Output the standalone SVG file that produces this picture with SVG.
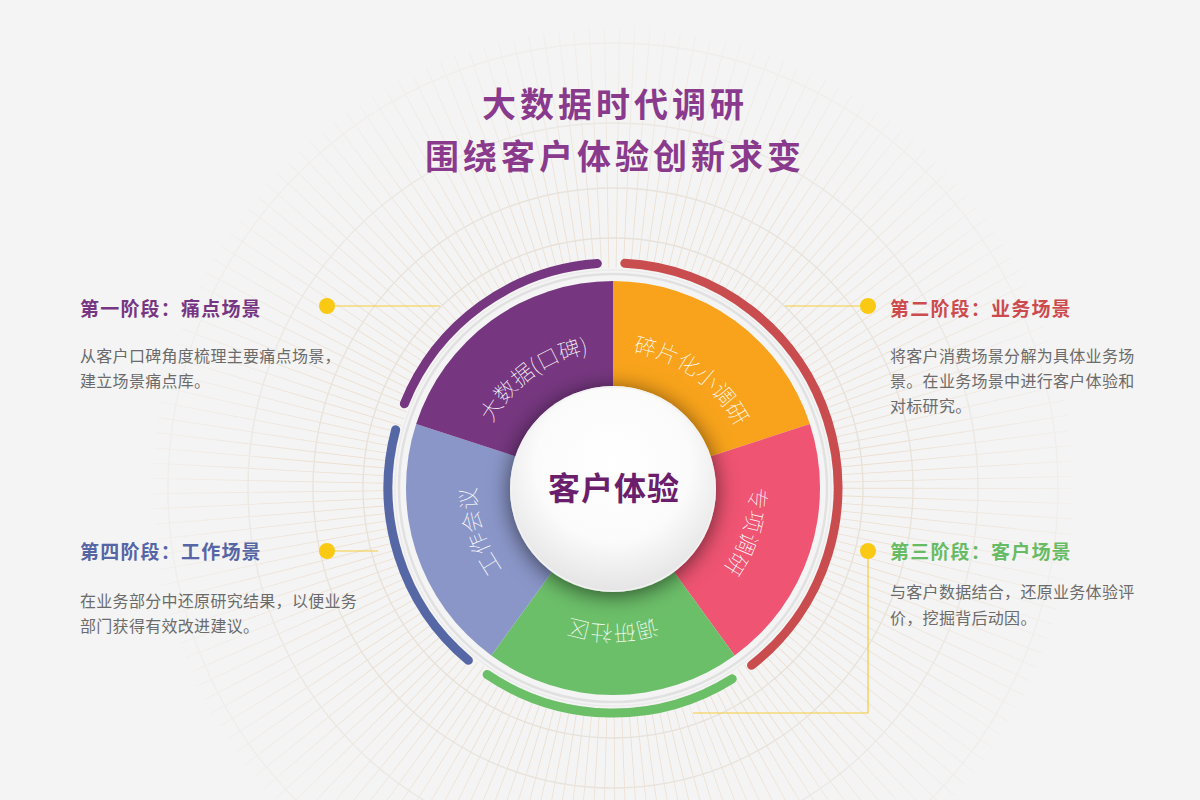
<svg xmlns="http://www.w3.org/2000/svg" width="1200" height="800" viewBox="0 0 1200 800">
  <defs>
    <style>
      .bg-ring{fill:none;stroke:#e6dfd6;stroke-width:1.3}
      .ticks{fill:none;stroke:#ecdccb;stroke-width:240;stroke-dasharray:0.8 10.51}
      .arc{fill:none;stroke-width:9;stroke-linecap:round}
      .slice-label{font-family:"Noto Sans CJK SC","Noto Sans",sans-serif;font-size:22px;font-weight:100;fill:#ffffff}
      .title{font-family:"Noto Sans CJK SC","Noto Sans",sans-serif;font-size:34px;font-weight:700;fill:#8a3a8c;letter-spacing:4px}
      .head{font-family:"Noto Sans CJK SC","Noto Sans",sans-serif;font-size:19px;font-weight:700;letter-spacing:1.2px}
      .body{font-family:"Noto Sans CJK SC","Noto Sans",sans-serif;font-size:16px;fill:#6b6b6b;letter-spacing:0.3px}
      .dot{fill:#f9c913}
      .conn{fill:none;stroke:#f6cb3c;stroke-width:1.2}
    </style>
    <radialGradient id="fadeGrad" cx="613" cy="488" r="520" gradientUnits="userSpaceOnUse">
      <stop offset="0" stop-color="#fff" stop-opacity="1"/>
      <stop offset="0.55" stop-color="#fff" stop-opacity="0.9"/>
      <stop offset="1" stop-color="#fff" stop-opacity="0"/>
    </radialGradient>
    <mask id="fade">
      <rect x="0" y="0" width="1200" height="800" fill="url(#fadeGrad)"/>
    </mask>
    <radialGradient id="hubGrad" cx="50%" cy="38%" r="62%">
      <stop offset="0" stop-color="#ffffff"/>
      <stop offset="0.6" stop-color="#fbfbfb"/>
      <stop offset="1" stop-color="#e4e4e4"/>
    </radialGradient>
    <filter id="hubShadow" x="-50%" y="-50%" width="200%" height="200%">
      <feDropShadow dx="0" dy="3" stdDeviation="11" flood-color="#000" flood-opacity="0.6"/>
    </filter>
    <path id="lp1" d="M481.31,525.76 A137,137 0 0 1 689.61,374.42"/>
    <path id="lp2" d="M536.39,374.42 A137,137 0 0 1 744.69,525.76"/>
    <path id="lp3" d="M697.35,380.04 A137,137 0 0 1 617.78,624.92"/>
    <path id="lp4" d="M741.74,534.86 A137,137 0 0 1 484.26,534.86"/>
    <path id="lp5" d="M608.22,624.92 A137,137 0 0 1 528.65,380.04"/>
  </defs>

  <!-- background -->
  <rect x="0" y="0" width="1200" height="800" fill="#f4f4f4"/>
  <g id="background" mask="url(#fade)">
    <circle class="ticks" cx="613" cy="488" r="340"/>
    <circle class="bg-ring" cx="613" cy="488" r="250"/>
    <circle class="bg-ring" cx="613" cy="488" r="300"/>
    <circle class="bg-ring" cx="613" cy="488" r="365"/>
    <circle class="bg-ring" cx="613" cy="488" r="445"/>
  </g>

  <!-- title -->
  <g id="title">
    <text class="title" x="615" y="117" text-anchor="middle">大数据时代调研</text>
    <text class="title" x="615" y="169" text-anchor="middle">围绕客户体验创新求变</text>
  </g>

  <!-- wheel rings -->
  <g id="wheel-rings">
    <circle cx="613" cy="488" r="214" fill="none" stroke="#e1e1e1" stroke-width="2.5"/>
    <circle cx="613" cy="488" r="218" fill="none" stroke="#ebebeb" stroke-width="1.5"/>
    <path class="arc" stroke="#763780" d="M404.38,403.71 A225,225 0 0 1 597.30,263.55"/>
    <path class="arc" stroke="#c94c4e" d="M624.78,263.31 A225,225 0 0 1 751.52,665.30"/>
    <path class="arc" stroke="#6bbf67" d="M732.23,678.81 A225,225 0 0 1 487.18,674.53"/>
    <path class="arc" stroke="#5667a6" d="M468.37,660.36 A225,225 0 0 1 395.67,429.77"/>
  </g>

  <!-- slices -->
  <g id="slice-orange">
    <path fill="#f8a31b" d="M613,488 L613,281 A207,207 0 0 1 809.87,424.03 Z"/>
  </g>
  <g id="slice-pink">
    <path fill="#ef5472" d="M613,488 L809.87,424.03 A207,207 0 0 1 734.67,655.47 Z"/>
  </g>
  <g id="slice-green">
    <path fill="#6cbf69" d="M613,488 L734.67,655.47 A207,207 0 0 1 491.33,655.47 Z"/>
  </g>
  <g id="slice-blue">
    <path fill="#8a96c8" d="M613,488 L491.33,655.47 A207,207 0 0 1 416.13,424.03 Z"/>
  </g>
  <g id="slice-purple">
    <path fill="#763780" d="M613,488 L416.13,424.03 A207,207 0 0 1 613,281 Z"/>
  </g>

  <!-- hub -->
  <g id="hub">
    <circle cx="613" cy="489" r="103" fill="url(#hubGrad)" filter="url(#hubShadow)"/>
    <circle cx="613" cy="489" r="102" fill="none" stroke="#f2f2f2" stroke-width="1.5"/>
    <text x="614" y="500" text-anchor="middle" font-family="'Noto Sans CJK SC','Noto Sans',sans-serif" font-size="32" font-weight="700" fill="#6a1e6c" letter-spacing="1">客户体验</text>
  </g>

  <!-- slice labels -->
  <g id="slice-labels">
    <text class="slice-label"><textPath href="#lp1" startOffset="50%" text-anchor="middle">大数据(口碑)</textPath></text>
    <text class="slice-label"><textPath href="#lp2" startOffset="50%" text-anchor="middle">碎片化小调研</textPath></text>
    <text class="slice-label"><textPath href="#lp3" startOffset="50%" text-anchor="middle">专项调研</textPath></text>
    <text class="slice-label"><textPath href="#lp4" startOffset="50%" text-anchor="middle">调研社区</textPath></text>
    <text class="slice-label"><textPath href="#lp5" startOffset="50%" text-anchor="middle">工作会议</textPath></text>
  </g>

  <!-- connectors -->
  <g id="connectors">
    <line class="conn" x1="333" y1="306" x2="440" y2="306"/>
    <line class="conn" x1="785" y1="306" x2="862" y2="306"/>
    <polyline class="conn" points="868,557 868,713 693,713"/>
    <line class="conn" x1="333" y1="551" x2="378" y2="551"/>
    <circle class="dot" cx="327" cy="306" r="8"/>
    <circle class="dot" cx="868" cy="306" r="8"/>
    <circle class="dot" cx="868" cy="551" r="8"/>
    <circle class="dot" cx="327" cy="551" r="8"/>
  </g>

  <!-- stage texts -->
  <g id="stage1">
    <text class="head" x="80" y="316" fill="#773683">第一阶段：痛点场景</text>
    <text class="body" x="80" y="362">从客户口碑角度梳理主要痛点场景，</text>
    <text class="body" x="80" y="387">建立场景痛点库。</text>
  </g>
  <g id="stage2">
    <text class="head" x="890" y="316" fill="#cd4b4d">第二阶段：业务场景</text>
    <text class="body" x="890" y="362">将客户消费场景分解为具体业务场</text>
    <text class="body" x="890" y="387">景。在业务场景中进行客户体验和</text>
    <text class="body" x="890" y="412">对标研究。</text>
  </g>
  <g id="stage3">
    <text class="head" x="890" y="559" fill="#67bb63">第三阶段：客户场景</text>
    <text class="body" x="890" y="598">与客户数据结合，还原业务体验评</text>
    <text class="body" x="890" y="624">价，挖掘背后动因。</text>
  </g>
  <g id="stage4">
    <text class="head" x="80" y="559" fill="#5565a6">第四阶段：工作场景</text>
    <text class="body" x="80" y="607">在业务部分中还原研究结果，以便业务</text>
    <text class="body" x="80" y="632">部门获得有效改进建议。</text>
  </g>
</svg>
